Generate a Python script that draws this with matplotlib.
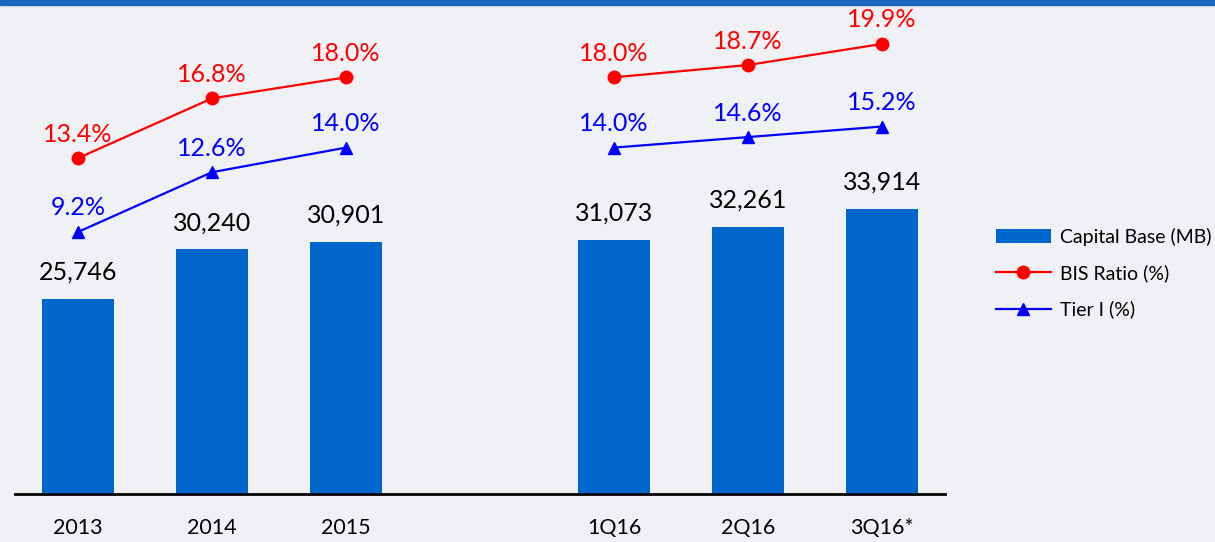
import matplotlib
matplotlib.use("Agg")
from matplotlib import pyplot as plt
from matplotlib.patches import Rectangle
import numpy as np

# data
periods = ["2013", "2014", "2015", "1Q16", "2Q16", "3Q16*"]
xpos = [0, 1, 2, 4, 5, 6]
capital_base = [25746, 30240, 30901, 31073, 32261, 33914]
bis_ratio = [13.4, 16.8, 18.0, 18.0, 18.7, 19.9]
tier1 = [9.2, 12.6, 14.0, 14.0, 14.6, 15.2]

plt.rcParams['font.family'] = ['Lato', 'DejaVu Sans']

fig = plt.figure(figsize=(12.15, 5.42), dpi=100)
fig.patch.set_facecolor("#eff1f4")
# blue band at the top
fig.patches.append(Rectangle((0, 1 - 5/542), 1, 5/542, transform=fig.transFigure,
                             color="#1a66c0", zorder=-5))

W, H = 1215, 542
left, right, top, bottom = 15, 945, 10, 494
ax = fig.add_axes([left/W, 1 - bottom/H, (right-left)/W, (bottom-top)/H])
ax.set_facecolor("none")

ax.bar(xpos, capital_base, width=0.54, color="#0066cc", label="Capital Base (MB)", zorder=2)
ax.set_xlim(-0.47, 6.47)
ax.set_ylim(8050, 51970)
for x, v in zip(xpos, capital_base):
    ax.annotate(f"{v:,}", (x, v), xytext=(0, 11), textcoords="offset points",
                ha="center", va="bottom", fontsize=18, color="black")

ax.set_xticks(xpos)
ax.set_xticklabels(periods, fontsize=15.5)
ax.tick_params(axis="x", length=0, pad=17)
ax.set_yticks([])
for s in ["top", "right", "left"]:
    ax.spines[s].set_visible(False)
ax.spines["bottom"].set_linewidth(2)
ax.spines["bottom"].set_color("black")

ax2 = ax.twinx()
ax2.set_ylim(-5.71, 21.83)
ax2.set_yticks([])
for s in ax2.spines.values():
    s.set_visible(False)

groups = [slice(0, 3), slice(3, 6)]
for g in groups:
    l1, = ax2.plot(xpos[g], bis_ratio[g], color="#ff0000", lw=1.6, marker="o", ms=9)
    l2, = ax2.plot(xpos[g], tier1[g], color="#0000ff", lw=1.6, marker="^", ms=9)
l1.set_label("BIS Ratio (%)")
l2.set_label("Tier I (%)")

for x, v in zip(xpos, bis_ratio):
    ax2.annotate(f"{v:.1f}%", (x, v), xytext=(0, 9), textcoords="offset points",
                 ha="center", va="bottom", fontsize=18, color="#ff0000")
for x, v in zip(xpos, tier1):
    ax2.annotate(f"{v:.1f}%", (x, v), xytext=(0, 9), textcoords="offset points",
                 ha="center", va="bottom", fontsize=18, color="#0000ff")

h1, lab1 = ax.get_legend_handles_labels()
h2, lab2 = ax2.get_legend_handles_labels()
fig.legend(h1 + h2, lab1 + lab2, loc="upper left", bbox_to_anchor=(978/W, 1 - 210/H),
           frameon=False, fontsize=14, handlelength=2.85, labelspacing=0.95,
           handletextpad=0.45)

fig.savefig("out.png", dpi=100, facecolor=fig.get_facecolor())
